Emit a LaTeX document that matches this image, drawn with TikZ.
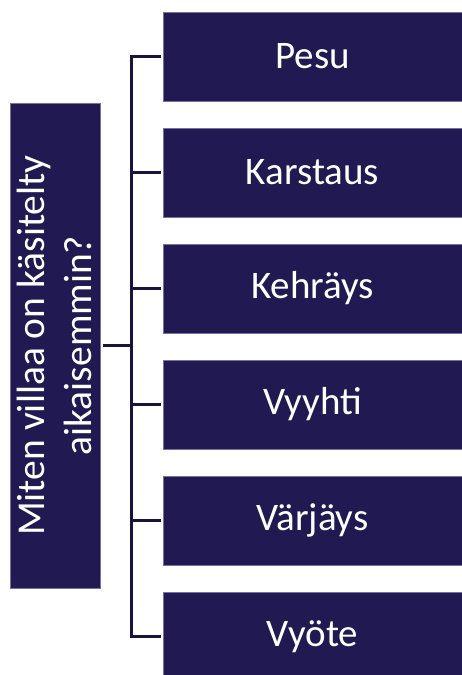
\documentclass[tikz,border=0pt]{standalone}
\usepackage{fontspec}
\setmainfont{Carlito}
\definecolor{boxnavy}{RGB}{33,25,81}
\definecolor{linenavy}{RGB}{26,18,64}
\tikzset{every picture/.style={line width=0.75pt}}
\tikzset{
  stepbox/.style={draw={rgb,255:red,120;green,112;blue,160}, line width=0.6pt, fill=boxnavy, text=white, minimum width=299, minimum height=89, inner sep=0pt, font=\fontsize{39}{46}\selectfont},
  askbox/.style={draw={rgb,255:red,120;green,112;blue,160}, line width=0.6pt, fill=boxnavy, minimum width=90, minimum height=485, inner sep=0pt},
  conn/.style={draw=linenavy, line width=2.5pt, shorten <=3pt, shorten >=2pt}
}
\begin{document}
\begin{tikzpicture}[x=1pt,y=1pt,yscale=-1,xscale=1]
\useasboundingbox (0,0) rectangle (462,675);

%Shape: Rectangle [question]
\node [askbox] (q) at (55,345.5) {};
% Text Node
\node [rotate=90, text=white, align=center, inner sep=0pt, font=\fontsize{39.5}{47}\selectfont] (qtext) at ([xshift=-1]q.center) {Miten villaa on käsitelty\\aikaisemmin?};

%Shape: Rectangle [steps]
\node [stepbox] (pesu) at (312.5,56.5) {Pesu};
\node [stepbox] (karstaus) at (312.5,172.5) {Karstaus};
\node [stepbox] (kehrays) at (312.5,288.5) {Kehräys};
\node [stepbox] (vyyhti) at (312.5,404.5) {Vyyhti};
\node [stepbox] (varjays) at (312.5,520.5) {Värjäys};
\node [stepbox] (vyote) at (312.5,636.5) {Vyöte};

%Straight Lines [bracket]
\draw [conn] (q.east) -- ++(31,0) |- (pesu.west);
\draw [conn] (q.east) -- ++(31,0) |- (karstaus.west);
\draw [conn] (q.east) -- ++(31,0) |- (kehrays.west);
\draw [conn] (q.east) -- ++(31,0) |- (vyyhti.west);
\draw [conn] (q.east) -- ++(31,0) |- (varjays.west);
\draw [conn] (q.east) -- ++(31,0) |- (vyote.west);

\end{tikzpicture}
\end{document}
